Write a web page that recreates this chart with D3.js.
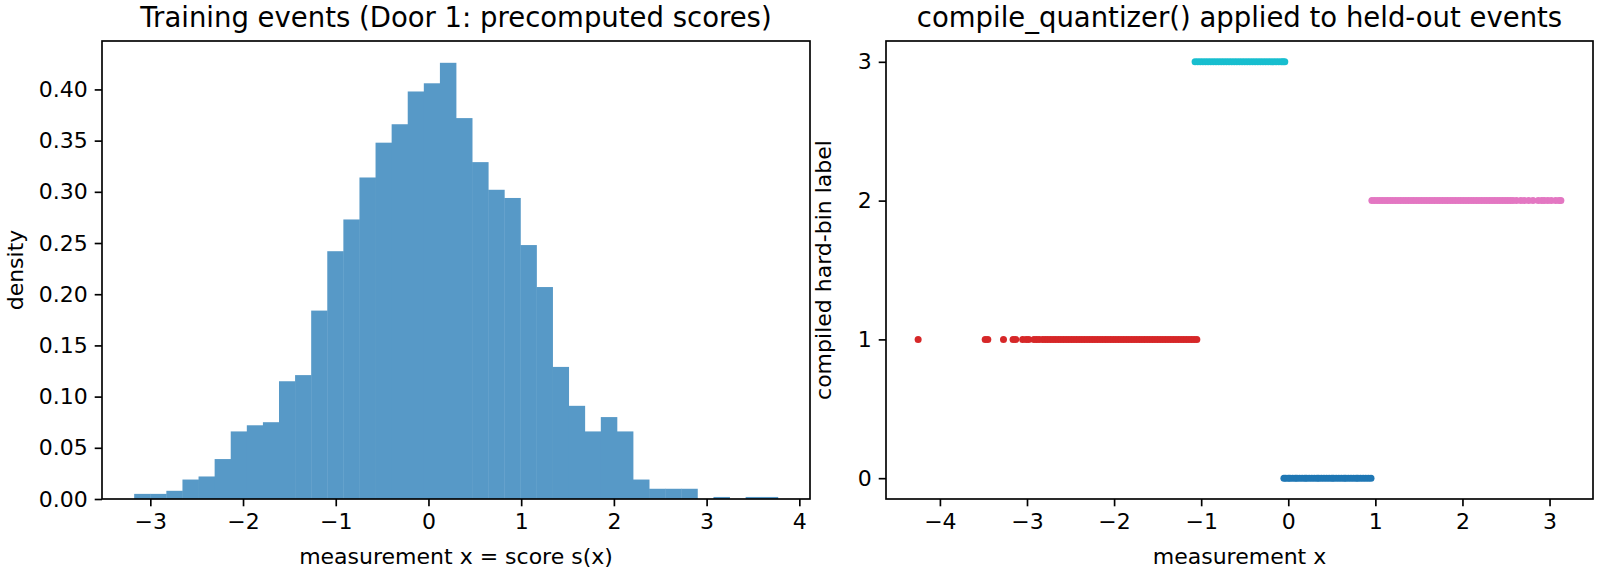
<!DOCTYPE html>
<html>
<head>
<meta charset="utf-8">
<script src="https://cdn.jsdelivr.net/npm/d3@7"></script>
<style>
  body { margin: 0; background: #fff; }
  text { font-family: "DejaVu Sans", sans-serif; fill: #000; }
</style>
</head>
<body>
<div id="chart"></div>
<script>
// left panel: histogram of training scores (density per bin)
const histRange = [-3.174, 3.768];
const histDensity = [
  0.005, 0.005, 0.008, 0.019, 0.022, 0.039, 0.066, 0.072, 0.075, 0.115,
  0.121, 0.184, 0.242, 0.273, 0.314, 0.348, 0.366, 0.398, 0.406, 0.426,
  0.372, 0.329, 0.302, 0.294, 0.248, 0.207, 0.129, 0.091, 0.066, 0.080,
  0.066, 0.019, 0.010, 0.010, 0.010, 0.000, 0.002, 0.000, 0.002, 0.002
];
const histXTicks = [-3, -2, -1, 0, 1, 2, 3, 4];
const histYTicks = [0, 0.05, 0.10, 0.15, 0.20, 0.25, 0.30, 0.35, 0.40];

// right panel: held-out measurements grouped by compiled hard-bin label
const label0X = [
  -0.05, -0.03, 0.00, 0.02, 0.05, 0.08, 0.10, 0.13, 0.16, 0.19, 0.21, 0.24,
  0.27, 0.30, 0.33, 0.35, 0.38, 0.41, 0.44, 0.47, 0.50, 0.52, 0.55, 0.58,
  0.61, 0.64, 0.66, 0.69, 0.72, 0.75, 0.78, 0.80, 0.83, 0.86, 0.89, 0.92, 0.95
];
const label1X = [
  -4.25, -3.48, -3.45, -3.27, -3.16, -3.13, -3.05, -3.01, -2.98, -2.92,
  -2.89, -2.86, -2.82, -2.79, -2.76, -2.73, -2.70, -2.67, -2.64, -2.61,
  -2.58, -2.55, -2.52, -2.49, -2.46, -2.43, -2.40, -2.37, -2.34, -2.31,
  -2.28, -2.25, -2.22, -2.19, -2.16, -2.13, -2.10, -2.07, -2.04, -2.01,
  -1.98, -1.95, -1.92, -1.89, -1.86, -1.83, -1.80, -1.77, -1.74, -1.71,
  -1.68, -1.65, -1.62, -1.59, -1.56, -1.53, -1.50, -1.47, -1.44, -1.41,
  -1.38, -1.35, -1.32, -1.29, -1.26, -1.23, -1.20, -1.17, -1.14, -1.11,
  -1.08, -1.05
];
const label2X = [
  0.96, 0.99, 1.02, 1.05, 1.08, 1.11, 1.14, 1.17, 1.20, 1.23, 1.26, 1.29,
  1.32, 1.35, 1.38, 1.41, 1.44, 1.47, 1.50, 1.53, 1.56, 1.59, 1.62, 1.65,
  1.68, 1.71, 1.74, 1.77, 1.80, 1.83, 1.86, 1.89, 1.92, 1.95, 1.98, 2.01,
  2.04, 2.07, 2.10, 2.13, 2.16, 2.19, 2.22, 2.25, 2.28, 2.31, 2.34, 2.37,
  2.40, 2.43, 2.46, 2.49, 2.52, 2.55, 2.58, 2.62, 2.67, 2.71, 2.76, 2.81,
  2.87, 2.91, 2.94, 2.98, 3.02, 3.07, 3.11, 3.13
];
const label3X = [
  -1.07, -1.04, -1.01, -0.98, -0.95, -0.92, -0.89, -0.86, -0.83, -0.80,
  -0.77, -0.74, -0.71, -0.68, -0.65, -0.62, -0.59, -0.56, -0.53, -0.50,
  -0.47, -0.44, -0.41, -0.38, -0.35, -0.32, -0.29, -0.26, -0.23, -0.20,
  -0.17, -0.14, -0.11, -0.08, -0.06, -0.04
];
const labelColors = ["#1f77b4", "#d62728", "#e377c2", "#17becf"];
const scatterXTicks = [-4, -3, -2, -1, 0, 1, 2, 3];
const scatterYTicks = [0, 1, 2, 3];

const W = 1600, H = 576;
const tickFont = 22, titleFont = 27.5;
const lw = 1.67, tickLen = 7.3;

var svg = d3.select("#chart").append("svg")
  .attr("width", W).attr("height", H);

function fmtMinus(v, digits) {
  var s = digits ? Math.abs(v).toFixed(digits) : String(Math.abs(v));
  return (v < 0 ? "\u2212" : "") + s;
}

function styleAxis(g) {
  g.selectAll("path.domain").remove();
  g.selectAll(".tick line").attr("stroke", "#000").attr("stroke-width", lw);
  g.selectAll(".tick text")
    .style("font-family", "DejaVu Sans")
    .style("font-size", tickFont + "px")
    .attr("fill", "#000");
}

function drawFrame(g, w, h) {
  g.append("rect")
    .attr("x", 0).attr("y", 0).attr("width", w).attr("height", h)
    .attr("fill", "none").attr("stroke", "#000").attr("stroke-width", lw);
}

// ---------- left panel ----------
var L = { left: 102, top: 41, width: 708, height: 458 };
var gL = svg.append("g").attr("transform", "translate(" + L.left + "," + L.top + ")");

var binW = (histRange[1] - histRange[0]) / histDensity.length;
var bins = histDensity.map(function (d, i) {
  return { x0: histRange[0] + i * binW, x1: histRange[0] + (i + 1) * binW, d: d };
});
var span = histRange[1] - histRange[0];
var xL = d3.scaleLinear()
  .domain([histRange[0] - 0.05 * span, histRange[1] + 0.05 * span])
  .range([0, L.width]);
var yL = d3.scaleLinear()
  .domain([0, d3.max(histDensity) * 1.05])
  .range([L.height, 0]);

// tab:blue at alpha 0.75 over white, drawn opaque so neighbouring bars don't darken
gL.selectAll("rect.bar")
  .data(bins)
  .enter()
  .append("rect")
  .attr("class", "bar")
  .attr("x", function (d) { return xL(d.x0); })
  .attr("y", function (d) { return yL(d.d); })
  .attr("width", function (d) { return xL(d.x1) - xL(d.x0) + 0.4; })
  .attr("height", function (d) { return L.height - yL(d.d); })
  .attr("fill", "#5799c7");

gL.append("g")
  .attr("transform", "translate(0," + L.height + ")")
  .call(d3.axisBottom(xL).tickValues(histXTicks).tickSize(tickLen).tickPadding(7)
    .tickFormat(function (d) { return fmtMinus(d, 0); }))
  .call(styleAxis);
gL.append("g")
  .call(d3.axisLeft(yL).tickValues(histYTicks).tickSize(tickLen).tickPadding(7)
    .tickFormat(function (d) { return d.toFixed(2); }))
  .call(styleAxis);
drawFrame(gL, L.width, L.height);

gL.append("text")
  .attr("text-anchor", "middle")
  .attr("x", L.width / 2)
  .attr("y", -14)
  .style("font-size", titleFont + "px")
  .text("Training events (Door 1: precomputed scores)");
gL.append("text")
  .attr("text-anchor", "middle")
  .attr("x", L.width / 2)
  .attr("y", L.height + 65)
  .style("font-size", tickFont + "px")
  .text("measurement x = score s(x)");
gL.append("text")
  .attr("text-anchor", "middle")
  .attr("transform", "translate(" + (-79) + "," + (L.height / 2) + ") rotate(-90)")
  .style("font-size", tickFont + "px")
  .text("density");

// ---------- right panel ----------
var R = { left: 886, top: 41, width: 707, height: 458 };
var gR = svg.append("g").attr("transform", "translate(" + R.left + "," + R.top + ")");

var points = [];
[label0X, label1X, label2X, label3X].forEach(function (arr, lab) {
  arr.forEach(function (x) { points.push({ x: x, label: lab }); });
});
var xMin = d3.min(points, function (d) { return d.x; });
var xMax = d3.max(points, function (d) { return d.x; });
var xs = xMax - xMin;
var xR = d3.scaleLinear()
  .domain([xMin - 0.05 * xs, xMax + 0.05 * xs])
  .range([0, R.width]);
var yR = d3.scaleLinear()
  .domain([-0.15, 3.15])
  .range([R.height, 0]);

gR.selectAll("circle")
  .data(points)
  .enter()
  .append("circle")
  .attr("cx", function (d) { return xR(d.x); })
  .attr("cy", function (d) { return yR(d.label); })
  .attr("r", 3.5)
  .attr("fill", function (d) { return labelColors[d.label]; });

gR.append("g")
  .attr("transform", "translate(0," + R.height + ")")
  .call(d3.axisBottom(xR).tickValues(scatterXTicks).tickSize(tickLen).tickPadding(7)
    .tickFormat(function (d) { return fmtMinus(d, 0); }))
  .call(styleAxis);
gR.append("g")
  .call(d3.axisLeft(yR).tickValues(scatterYTicks).tickSize(tickLen).tickPadding(7)
    .tickFormat(function (d) { return String(d); }))
  .call(styleAxis);
drawFrame(gR, R.width, R.height);

gR.append("text")
  .attr("text-anchor", "middle")
  .attr("x", R.width / 2)
  .attr("y", -14)
  .style("font-size", titleFont + "px")
  .text("compile_quantizer() applied to held-out events");
gR.append("text")
  .attr("text-anchor", "middle")
  .attr("x", R.width / 2)
  .attr("y", R.height + 65)
  .style("font-size", tickFont + "px")
  .text("measurement x");
gR.append("text")
  .attr("text-anchor", "middle")
  .attr("transform", "translate(" + (-55) + "," + (R.height / 2) + ") rotate(-90)")
  .style("font-size", tickFont + "px")
  .text("compiled hard-bin label");
</script>
</body>
</html>
